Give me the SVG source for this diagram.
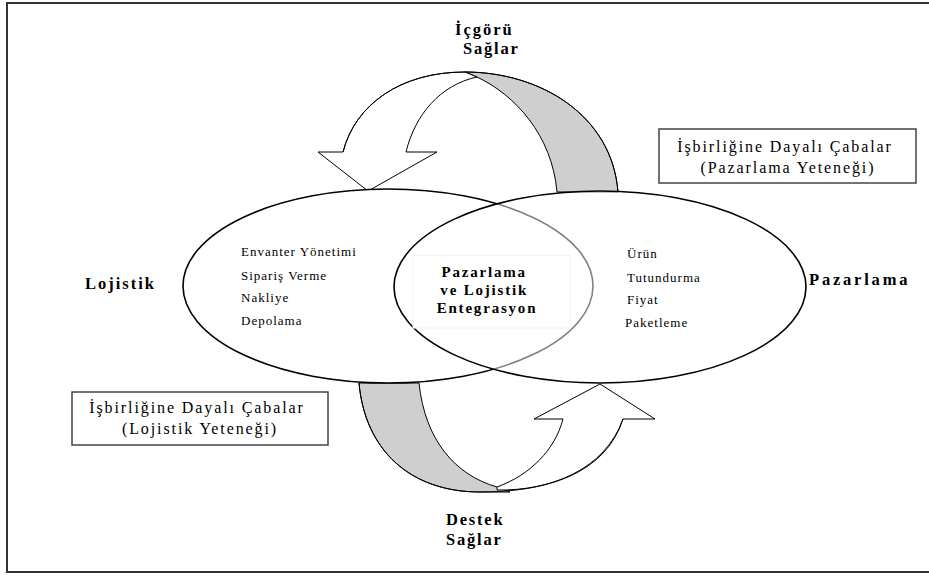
<svg xmlns="http://www.w3.org/2000/svg" width="929" height="576" viewBox="0 0 929 576">
<style>
.t{font-family:"Liberation Serif","Times New Roman",serif;fill:#000}
.b{font-weight:bold}
.item{font-size:13px;letter-spacing:1px}
.box{fill:#fff;stroke:#444;stroke-width:1.5}
.face{fill:#fff;stroke:#000;stroke-width:1}
.band{fill:#cfcfcf;stroke:#000;stroke-width:1}
.edge{fill:none;stroke:#000;stroke-width:1}
</style>
<rect width="929" height="576" fill="#fff"/>
<path d="M929,3 L7,3 L7,572 L929,572" fill="none" stroke="#333" stroke-width="2"/>

<g id="connectors">
  <g id="top-arrow">
    <path class="band" d="M465,72 C540,72 612,115 618,192 L557,192 C552,135 515,95 477,77 Z"/>
    <path class="face" d="M343,152 L318,152 L368,191 L437,152 L406,152 C415,115 440,85 477,77 L465,72 C400,72 355,105 343,152 Z"/>
    <path class="edge" d="M343,152 C355,105 400,72 465,72 C540,72 612,115 618,192"/>
  </g>
  <g id="bottom-arrow">
    <path class="band" d="M359,383 L419,383 C425,440 455,475 497,487 L510,492 L480,492 C410,492 365,450 359,383 Z"/>
    <path class="face" d="M497,487 C530,475 555,450 563,419 L534,419 L600,384 L655,419 L623,419 C605,470 550,491 497,490 Z"/>
    <path class="edge" d="M359,383 C365,450 410,492 480,492 C545,492 605,475 623,419"/>
  </g>
</g>

<g id="lojistik-ellipse">
  <ellipse cx="388" cy="286" rx="205" ry="97" fill="#fff" stroke="#000" stroke-width="1.6"/>
</g>
<g id="pazarlama-ellipse">
  <ellipse cx="600" cy="287" rx="206" ry="96" fill="#fff" fill-opacity="0.5" stroke="#000" stroke-width="1.6"/>
</g>

<g id="center">
  <rect x="413" y="255" width="157" height="73" fill="#fff" stroke="#f2f2f2" stroke-width="1"/>
  <text class="t b" font-size="15" letter-spacing="1.8" text-anchor="middle">
    <tspan x="487" y="277">Pazarlama</tspan>
    <tspan x="487" y="295">ve Lojistik</tspan>
    <tspan x="487" y="313">Entegrasyon</tspan>
  </text>
</g>

<g id="lojistik-items">
  <text class="t item" x="241" y="256">Envanter Yönetimi</text>
  <text class="t item" x="241" y="280">Sipariş Verme</text>
  <text class="t item" x="241" y="302">Nakliye</text>
  <text class="t item" x="241" y="325">Depolama</text>
</g>
<g id="pazarlama-items">
  <text class="t item" x="627" y="258">Ürün</text>
  <text class="t item" x="627" y="282">Tutundurma</text>
  <text class="t item" x="627" y="304">Fiyat</text>
  <text class="t item" x="625" y="327">Paketleme</text>
</g>

<g id="lojistik-label">
  <text class="t b" x="85" y="289" font-size="16.5" letter-spacing="2">Lojistik</text>
</g>
<g id="pazarlama-label">
  <text class="t b" x="809" y="285" font-size="16.5" letter-spacing="2.8">Pazarlama</text>
</g>

<g id="icgoru-label">
  <text class="t b" x="455" y="35" font-size="16.5" letter-spacing="2">İçgörü</text>
  <text class="t b" x="463" y="54" font-size="16.5" letter-spacing="1.8">Sağlar</text>
</g>
<g id="destek-label">
  <text class="t b" x="446" y="525" font-size="16.5" letter-spacing="1.8">Destek</text>
  <text class="t b" x="446" y="545" font-size="16.5" letter-spacing="1.8">Sağlar</text>
</g>

<g id="box-pazarlama">
  <rect class="box" x="659" y="129" width="257" height="54"/>
  <text class="t" font-size="16" letter-spacing="1.9" text-anchor="middle">
    <tspan x="788" y="152">İşbirliğine Dayalı Çabalar</tspan>
    <tspan x="788" y="173">(Pazarlama Yeteneği)</tspan>
  </text>
</g>
<g id="box-lojistik">
  <rect class="box" x="72" y="392" width="256" height="53"/>
  <text class="t" font-size="16" letter-spacing="1.9" text-anchor="middle">
    <tspan x="200" y="413">İşbirliğine Dayalı Çabalar</tspan>
    <tspan x="200" y="434">(Lojistik Yeteneği)</tspan>
  </text>
</g>
</svg>
